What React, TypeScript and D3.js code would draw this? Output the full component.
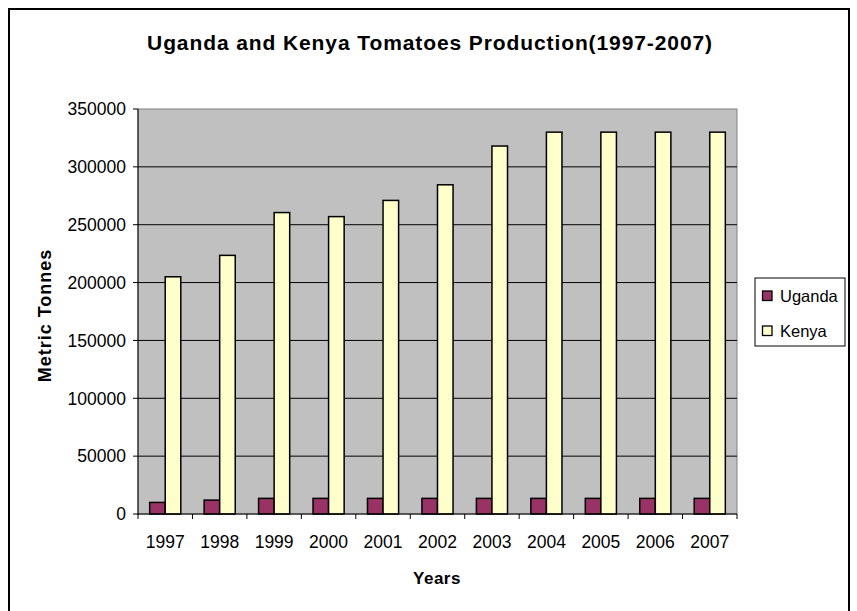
import React from "react";
import * as d3 from "d3";

const years = ["1997", "1998", "1999", "2000", "2001", "2002", "2003", "2004", "2005", "2006", "2007"];
const uganda = [10000, 12000, 13500, 13500, 13500, 13500, 13500, 13500, 13500, 13500, 13500];
const kenya = [205000, 223500, 260500, 257000, 271000, 284500, 318000, 330000, 330000, 330000, 330000];
const yTicks = [0, 50000, 100000, 150000, 200000, 250000, 300000, 350000];
const seriesNames = ["Uganda", "Kenya"];
const seriesColors = ["#993366", "#FFFFCC"];

export default function App() {
  const W = 857, H = 611;
  const left = 138, right = 737, top = 109, bottom = 514;
  const x = d3.scaleBand().domain(years).range([left, right]).paddingInner(0).paddingOuter(0);
  const y = d3.scaleLinear().domain([0, 350000]).range([bottom, top]);
  const bw = x.bandwidth() / 3.5;
  const series = [uganda, kenya];
  const font = "Liberation Sans, Arial, sans-serif";
  return (
    <svg width={W} height={H} style={{ position: "absolute", left: 0, top: 0 }} fontFamily={font}>
      <rect x={0} y={0} width={W} height={H} fill="#fff" />
      <rect x={9} y={9} width={840} height={620} fill="#fff" stroke="#000" strokeWidth={2} />
      <text x={430} y={50} textAnchor="middle" fontSize={21} fontWeight="bold" letterSpacing={0.9}>
        Uganda and Kenya Tomatoes Production(1997-2007)
      </text>
      <rect x={left} y={top} width={right - left} height={bottom - top} fill="#C0C0C0" stroke="#808080" strokeWidth={1} />
      {yTicks.map((t) => (
        <g key={t}>
          {t > 0 && t < 350000 && (
            <line x1={left} x2={right} y1={y(t)} y2={y(t)} stroke="#000" strokeWidth={1} />
          )}
          <line x1={left - 5} x2={left} y1={y(t)} y2={y(t)} stroke="#000" strokeWidth={1} />
          <text x={126} y={y(t)} dy="0.36em" textAnchor="end" fontSize={17.5}>
            {t}
          </text>
        </g>
      ))}
      <line x1={left} x2={left} y1={top} y2={bottom + 1} stroke="#000" strokeWidth={1} />
      {years.map((yr, i) =>
        series.map((s, j) => (
          <rect
            key={yr + j}
            x={(x(yr) as number) + x.bandwidth() * 0.75 / 3.5 + j * bw}
            y={y(s[i])}
            width={bw}
            height={bottom - y(s[i])}
            fill={seriesColors[j]}
            stroke="#000"
            strokeWidth={1.5}
          />
        ))
      )}
      <line x1={left} x2={right} y1={bottom} y2={bottom} stroke="#000" strokeWidth={1} />
      {years.map((yr) => (
        <line key={"t" + yr} x1={x(yr) as number} x2={x(yr) as number} y1={bottom} y2={bottom + 5} stroke="#000" />
      ))}
      <line x1={right} x2={right} y1={bottom} y2={bottom + 5} stroke="#000" />
      {years.map((yr) => (
        <text key={"l" + yr} x={(x(yr) as number) + x.bandwidth() / 2} y={542} dy="0.36em" textAnchor="middle" fontSize={17.5}>
          {yr}
        </text>
      ))}
      <text x={437} y={584} textAnchor="middle" fontSize={17} fontWeight="bold" letterSpacing={0.5}>
        Years
      </text>
      <text
        transform={`translate(51,${(top + bottom) / 2 + 4}) rotate(-90)`}
        textAnchor="middle"
        fontSize={18}
        fontWeight="bold"
        letterSpacing={1}
      >
        Metric Tonnes
      </text>
      <rect x={755} y={278} width={90} height={68} fill="#fff" stroke="#000" strokeWidth={1} />
      {seriesNames.map((n, j) => (
        <g key={n}>
          <rect x={762.5} y={291 + j * 35} width={9.5} height={9.5} fill={seriesColors[j]} stroke="#000" strokeWidth={1.3} />
          <text x={780} y={296 + j * 35} dy="0.36em" fontSize={16.5}>
            {n}
          </text>
        </g>
      ))}
    </svg>
  );
}
